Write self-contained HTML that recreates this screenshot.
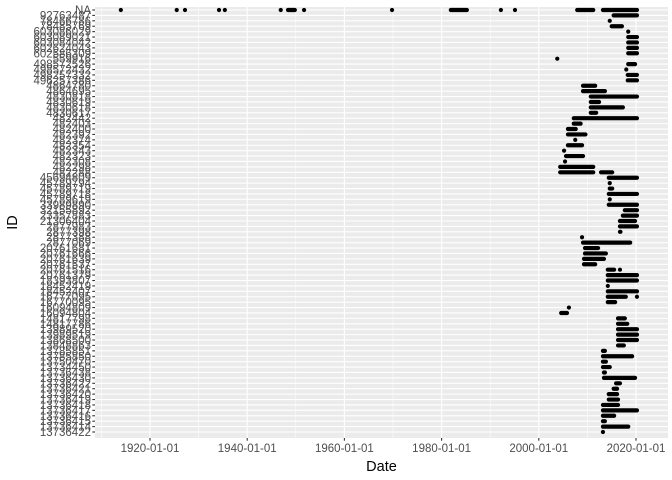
<!DOCTYPE html>
<html><head><meta charset="utf-8"><style>
html,body{margin:0;padding:0;background:#fff;}
svg{display:block;font-family:"Liberation Sans",sans-serif;}
</style></head><body>
<svg id="chart" width="672" height="480" viewBox="0 0 672 480" xmlns="http://www.w3.org/2000/svg"></svg>
<script>
const ids = ["NA","92763487","78466786","78485769","603086029","603089021","603084042","602624043","602586309","559916",
"498572526","498572432","498257332","496257386","4864780","4864695","4830818","4830619","4830618","4830617",
"482442","482403","482400","482392","482374","482354","482343","482323","482308","482298",
"482288","45694809","45789794","45789719","45789718","45789619","33989890","32155892","23357883","21306404",
"2877983","2877398","2877388","2877069","20761681","20761666","20761639","20761537","20761516","20761379",
"18393807","18452419","18452407","16777095","16770095","16094809","16094804","14817798","14817786","13989520",
"13989519","13868500","13848863","13785851","13785850","13750470","13734450","13736438","13736430","13736422",
"13736421","13736420","13736419","13736418","13736417","13736416","13736415","13736414","13736422"];
const segRows   = [0,0,0,0,1,3,5,6,7,8,10,12,13,14,15,16,17,18,19,20,21,22,23,25,27,29,30,30,31,33,34,36,37,38,39,40,41,43,44,45,46,47,48,49,50,52,53,54,56,57,58,59,60,61,62,63,64,65,66,67,68,69,70,71,72,73,74,75,76,77];
const segStart  = [1948.4,1981.9,2007.9,2013.2,2015.4,2015.0,2018.4,2018.4,2018.4,2018.4,2018.4,2018.3,2018.3,2009.1,2009.1,2010.7,2010.7,2010.7,2010.7,2007.2,2007.2,2006.0,2006.0,2006.0,2005.6,2004.4,2004.4,2012.8,2014.4,2014.6,2014.4,2014.4,2017.7,2017.3,2016.7,2016.7,2016.7,2009.1,2009.5,2009.5,2009.3,2009.3,2014.2,2014.2,2014.2,2014.2,2014.2,2014.2,2004.6,2016.3,2016.3,2016.3,2016.3,2016.3,2016.3,2013.2,2013.2,2013.2,2013.2,2013.4,2013.4,2015.9,2015.4,2014.4,2014.4,2013.2,2013.2,2013.2,2013.2,2013.2];
const segEnd    = [1949.8,1985.2,2011.2,2020.2,2020.2,2017.1,2020.2,2020.2,2020.2,2020.2,2019.8,2020.2,2020.2,2011.6,2013.6,2020.2,2012.4,2017.3,2011.8,2020.2,2008.6,2007.6,2009.6,2008.9,2009.1,2011.2,2011.2,2015.1,2020.2,2015.1,2020.2,2020.2,2020.2,2020.2,2019.8,2020.2,2016.8,2018.8,2012.2,2013.8,2013.4,2011.6,2015.5,2020.2,2020.2,2020.2,2017.9,2015.7,2005.8,2017.7,2018.2,2020.2,2020.2,2020.2,2017.5,2013.6,2019.2,2013.8,2014.6,2013.6,2019.8,2016.7,2016.1,2016.1,2016.3,2016.3,2020.2,2015.5,2013.6,2018.4];
const ptRows  = [0,0,0,0,0,0,0,0,0,0,2,4,9,11,24,26,28,32,35,42,48,51,53,55,78];
const ptYears = [1914.0,1925.5,1927.2,1934.2,1935.4,1946.9,1951.7,1969.8,1992.2,1995.1,2014.6,2018.4,2003.8,2018.0,2007.5,2005.2,2005.4,2014.6,2014.6,2008.9,2016.7,2014.2,2020.2,2006.2,2013.2];
const xTicks = [1920,1940,1960,1980,2000,2020];
const xMinor = [1910,1930,1950,1970,1990,2010];

const NS="http://www.w3.org/2000/svg";
const svg=document.getElementById('chart');
const P={l:95,r:668,t:7,b:438};
const x=yr=>150+(yr-1920)*4.86;
const yRow=i=>10+i*(422/(ids.length-1));
function el(tag,attrs,parent){const e=document.createElementNS(NS,tag);for(const k in attrs)e.setAttribute(k,attrs[k]);(parent||svg).appendChild(e);return e;}

const panel=el('rect',{x:P.l,y:P.t,width:P.r-P.l,height:P.b-P.t,fill:'#ebebeb'});


const grid=el('g',{});


xMinor.forEach(v=>{if(x(v)>P.l) el('line',{x1:x(v),x2:x(v),y1:P.t,y2:P.b,stroke:'#fff','stroke-width':0.55},grid);});
xTicks.forEach(v=>el('line',{x1:x(v),x2:x(v),y1:P.t,y2:P.b,stroke:'#fff','stroke-width':1.1},grid));
ids.forEach((d,i)=>el('line',{x1:P.l,x2:P.r,y1:yRow(i),y2:yRow(i),stroke:'#fff','stroke-width':1.1},grid));

const marks=el('g',{});


segRows.forEach((r,i)=>{
  const s=el('line',{x1:x(segStart[i]),x2:x(segEnd[i]),y1:yRow(r),y2:yRow(r),stroke:'#000','stroke-width':4.2,'stroke-linecap':'round'},marks);
  
  
});
ptRows.forEach((r,i)=>{
  const c=el('circle',{cx:x(ptYears[i]),cy:yRow(r),r:2.1,fill:'#000'},marks);
  
  
});

const yax=el('g',{});


ids.forEach((d,i)=>{
  el('line',{x1:P.l-2.7,x2:P.l,y1:yRow(i),y2:yRow(i),stroke:'#333','stroke-width':1.1},yax);
  const t=el('text',{x:P.l-4,y:yRow(i)+4,'text-anchor':'end','font-size':11.5,fill:'#4d4d4d'},yax);
  t.textContent=d;
  
  
});
const xax=el('g',{});


xTicks.forEach(v=>{
  el('line',{x1:x(v),x2:x(v),y1:P.b,y2:P.b+2.7,stroke:'#333','stroke-width':1.1},xax);
  const t=el('text',{x:x(v),y:P.b+14,'text-anchor':'middle','font-size':11.5,fill:'#4d4d4d'},xax);
  t.textContent=v+'-01-01';
  
  
});
const xt=el('text',{x:(P.l+P.r)/2,y:471,'text-anchor':'middle','font-size':14.5,fill:'#000'});
xt.textContent='Date';


const yt=el('text',{x:0,y:0,transform:'translate(17,'+((P.t+P.b)/2)+') rotate(-90)','text-anchor':'middle','font-size':14.5,fill:'#000'});
yt.textContent='ID';


</script>
</body></html>
